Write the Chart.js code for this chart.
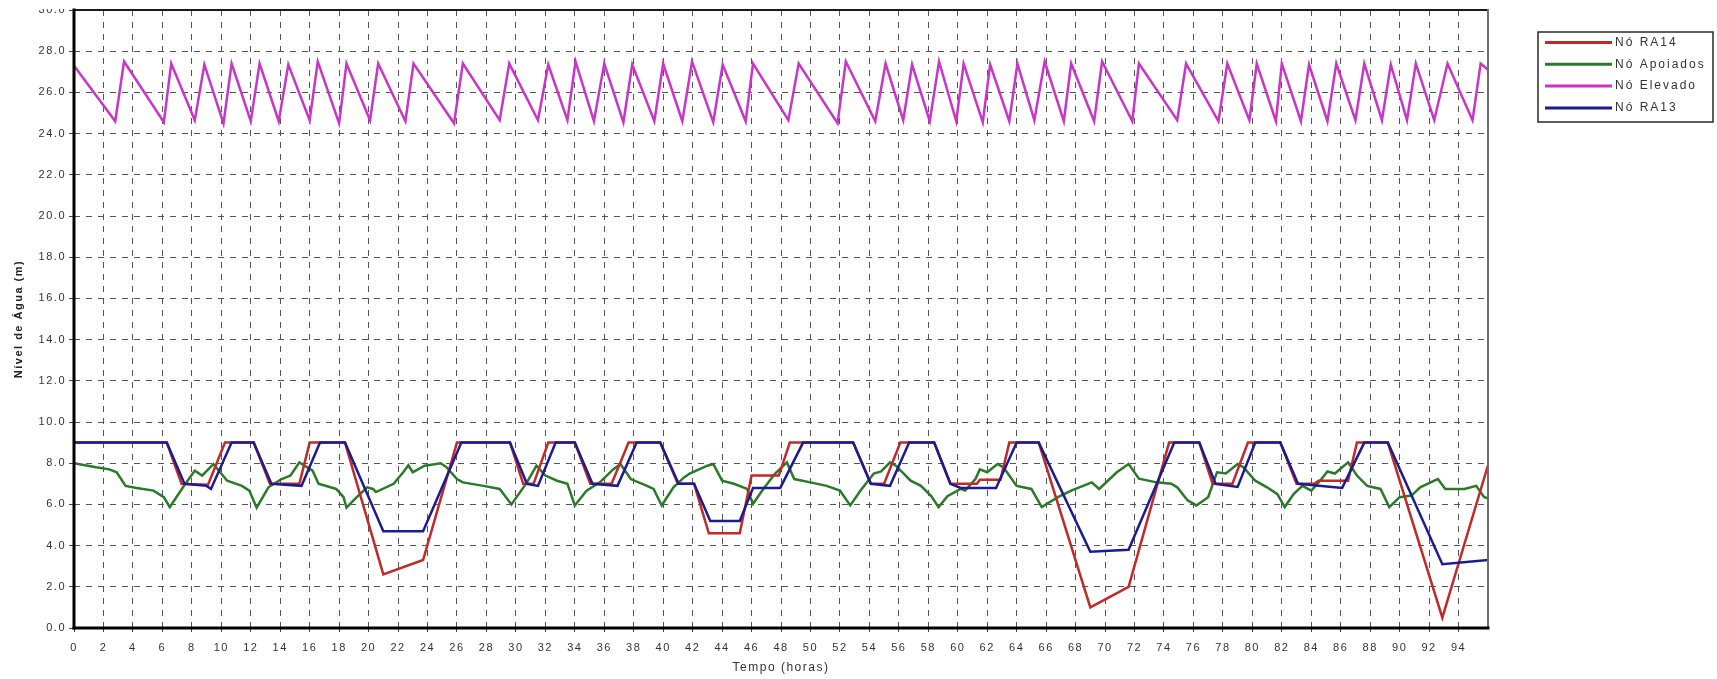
<!DOCTYPE html>
<html>
<head>
<meta charset="utf-8">
<title>Nível de Água</title>
<script src="https://cdn.jsdelivr.net/npm/chart.js@4.4.1/dist/chart.umd.min.js"></script>
<style>
  html, body { margin: 0; padding: 0; background: #fff; }
  #wrap { position: relative; width: 1717px; height: 679px; }
</style>
</head>
<body>
<div id="wrap"><canvas id="levelChart" width="1717" height="679"></canvas></div>
<script>
// breakpoints: time (hours) and water level (m) per node
const seriesLabels = ['Nó RA14', 'Nó Apoiados', 'Nó Elevado', 'Nó RA13'];

const ra14Hours = [0, 6.3, 7.3, 9.1, 10.25, 12.2, 13.3, 15.3, 16.0, 18.4, 21.0, 23.7, 26.0, 29.6, 30.5, 31.2,
  32.2, 34.0, 35.05, 36.5, 37.65, 39.8, 41.0, 42.1, 43.1, 45.2, 46.0, 47.85, 48.6, 52.9, 54.1, 55.0, 56.1,
  58.4, 59.5, 61.3, 61.5, 62.9, 63.5, 65.5, 69.0, 71.6, 74.35, 76.4, 77.3, 78.65, 79.7, 81.9, 83.0, 84.2,
  84.5, 86.5, 87.1, 89.2, 92.9, 96.0];
const ra14Level = [9.0, 9.0, 7.0, 6.95, 9.0, 9.0, 7.0, 7.0, 9.0, 9.0, 2.6, 3.3, 9.0, 9.0, 7.0, 7.0,
  9.0, 9.0, 7.0, 7.0, 9.0, 9.0, 7.0, 7.0, 4.6, 4.6, 7.4, 7.4, 9.0, 9.0, 7.0, 7.0, 9.0,
  9.0, 7.0, 7.0, 7.2, 7.2, 9.0, 9.0, 1.0, 2.0, 9.0, 9.0, 7.0, 7.0, 9.0, 9.0, 7.0, 7.0,
  7.15, 7.15, 9.0, 9.0, 0.5, 7.9];

const apoiadosHours = [0, 1.5, 2.4, 2.9, 3.5, 4.25, 5.4, 6.1, 6.5, 7.4, 8.2, 8.7, 9.46, 10.4, 11.4, 11.9,
  12.4, 13.2, 14.1, 14.7, 15.3, 16.2, 16.6, 17.8, 18.3, 18.5, 19.2, 19.9, 20.3, 20.5, 21.7, 22.35, 22.7,
  23.0, 23.8, 24.9, 25.3, 26.0, 26.4, 27.8, 28.9, 29.7, 30.75, 31.4, 32.0, 32.8, 33.5, 34.0, 34.8, 35.7,
  36.6, 37.1, 37.8, 38.9, 39.35, 39.9, 40.7, 41.4, 41.8, 43.0, 43.4, 44.0, 44.8, 45.7, 46.1, 46.8, 47.6,
  48.4, 48.9, 50.0, 51.1, 52.0, 52.7, 53.4, 54.3, 54.8, 55.4, 55.8, 56.8, 57.5, 58.2, 58.7, 59.3, 60.2,
  60.5, 61.2, 61.5, 62.0, 62.7, 63.1, 64.0, 65.0, 65.7, 66.8, 67.7, 69.1, 69.6, 70.8, 71.6, 72.3, 73.5,
  74.5, 74.9, 75.6, 76.2, 77.0, 77.6, 78.2, 79.0, 79.4, 80.2, 81.0, 81.7, 82.2, 82.8, 83.4, 84.0, 84.6,
  85.1, 85.6, 86.5, 87.1, 87.8, 88.7, 89.3, 90.0, 90.8, 91.4, 92.35, 92.6, 93.1, 94.4, 95.2, 95.74, 96.0];
const apoiadosLevel = [8.0, 7.8, 7.7, 7.56, 6.9, 6.8, 6.67, 6.35, 5.87, 6.83, 7.64, 7.4, 7.96, 7.15, 6.9, 6.67,
  5.84, 6.83, 7.23, 7.4, 8.04, 7.64, 7.0, 6.75, 6.35, 5.84, 6.35, 6.83, 6.75, 6.6, 7.0, 7.56, 7.9,
  7.56, 7.88, 8.0, 7.8, 7.23, 7.07, 6.9, 6.75, 6.0, 7.07, 7.88, 7.4, 7.15, 7.0, 5.95, 6.67, 7.07,
  7.7, 7.96, 7.23, 6.9, 6.75, 5.95, 6.83, 7.3, 7.5, 7.88, 7.96, 7.15, 7.0, 6.75, 6.03, 6.75, 7.5,
  8.04, 7.23, 7.07, 6.9, 6.67, 5.95, 6.67, 7.5, 7.6, 8.04, 7.88, 7.15, 6.9, 6.4, 5.87, 6.4, 6.75,
  6.67, 7.23, 7.7, 7.56, 7.96, 7.8, 6.9, 6.75, 5.87, 6.35, 6.67, 7.07, 6.75, 7.56, 7.96, 7.25, 7.07,
  7.0, 6.83, 6.2, 5.95, 6.35, 7.56, 7.5, 7.96, 7.8, 7.15, 6.83, 6.5, 5.87, 6.5, 6.9, 6.67, 7.15,
  7.6, 7.5, 8.04, 7.4, 6.9, 6.75, 5.87, 6.35, 6.43, 6.83, 7.15, 7.23, 6.75, 6.75, 6.9, 6.35, 6.3];

const elevadoHours = [0, 2.8, 3.4, 6.1, 6.6, 8.2, 8.85, 10.15, 10.7, 12.0, 12.6, 13.9, 14.55, 16.0, 16.55,
  18.0, 18.5, 20.1, 20.65, 22.5, 23.05, 25.8, 26.4, 28.9, 29.55, 31.5, 32.2, 33.5, 34.05, 35.3, 36.0,
  37.3, 37.9, 39.4, 40.0, 41.3, 41.96, 43.4, 44.04, 45.6, 46.1, 48.5, 49.2, 51.84, 52.4, 54.4, 55.1,
  56.3, 56.9, 58.1, 58.73, 59.9, 60.4, 61.7, 62.2, 63.5, 64.05, 65.2, 65.9, 67.2, 67.7, 69.26, 69.8,
  71.85, 72.3, 74.9, 75.5, 77.7, 78.3, 79.8, 80.3, 81.6, 82.0, 83.3, 83.85, 85.1, 85.7, 87.0, 87.6,
  88.8, 89.4, 90.5, 91.1, 92.35, 93.25, 94.95, 95.5, 96.0];
const elevadoLevel = [27.3, 24.6, 27.5, 24.55, 27.4, 24.65, 27.35, 24.5, 27.4, 24.6, 27.4, 24.6, 27.35, 24.65, 27.5,
  24.5, 27.4, 24.65, 27.4, 24.6, 27.4, 24.5, 27.4, 24.65, 27.4, 24.65, 27.35, 24.65, 27.5, 24.6, 27.4,
  24.55, 27.35, 24.6, 27.4, 24.6, 27.5, 24.55, 27.35, 24.6, 27.4, 24.65, 27.4, 24.5, 27.5, 24.6, 27.4,
  24.65, 27.35, 24.6, 27.5, 24.6, 27.4, 24.55, 27.35, 24.6, 27.4, 24.65, 27.5, 24.6, 27.4, 24.6, 27.5,
  24.6, 27.4, 24.65, 27.4, 24.6, 27.4, 24.65, 27.4, 24.6, 27.4, 24.6, 27.35, 24.6, 27.4, 24.65, 27.4,
  24.65, 27.35, 24.65, 27.4, 24.65, 27.4, 24.65, 27.4, 27.1];

const ra13Hours = [0, 6.3, 7.5, 9.0, 9.3, 10.7, 12.2, 13.4, 15.45, 16.7, 18.4, 21.0, 23.7, 26.3, 29.6, 30.75,
  31.5, 32.7, 34.0, 35.2, 36.9, 38.2, 39.8, 41.05, 42.1, 43.2, 45.2, 46.1, 47.95, 49.5, 52.9, 54.1, 55.4,
  56.7, 58.4, 59.5, 60.2, 62.6, 64.0, 65.5, 69.0, 71.6, 74.7, 76.4, 77.5, 79.0, 80.2, 81.9, 83.1, 86.1,
  87.6, 89.2, 92.9, 96.0];
const ra13Level = [9.0, 9.0, 7.0, 6.9, 6.75, 9.0, 9.0, 7.0, 6.9, 9.0, 9.0, 4.7, 4.7, 9.0, 9.0, 7.0,
  6.9, 9.0, 9.0, 7.0, 6.9, 9.0, 9.0, 7.0, 7.0, 5.2, 5.2, 6.8, 6.8, 9.0, 9.0, 7.0, 6.9,
  9.0, 9.0, 7.0, 6.8, 6.8, 9.0, 9.0, 3.7, 3.8, 9.0, 9.0, 7.0, 6.85, 9.0, 9.0, 7.0, 6.8,
  9.0, 9.0, 3.1, 3.3];

const seriesColors = ['#bf2a2a', '#2a7a2a', '#c836c8', '#1c1c8e'];

const xTickStep = 2;
const yTickStep = 2;

function toPoints(hours, level) {
  return hours.map((h, i) => ({ x: h, y: level[i] }));
}

const textFont = '"Liberation Sans", Arial, sans-serif';

// black/grey frame round the plot area, like the original program draws it
const plotFrame = {
  id: 'plotFrame',
  afterDraw(chart) {
    const { left, right, top, bottom } = chart.chartArea;
    const ctx = chart.ctx;
    const seg = (x1, y1, x2, y2) => { ctx.beginPath(); ctx.moveTo(x1, y1); ctx.lineTo(x2, y2); ctx.stroke(); };
    ctx.save();
    // the source image is cropped just through the top tick label
    ctx.fillStyle = '#fff';
    ctx.fillRect(0, 0, left - 6, top - 1);
    ctx.lineCap = 'square';
    ctx.strokeStyle = '#1a1a1a'; ctx.lineWidth = 2;
    seg(left, top, right, top);
    ctx.strokeStyle = '#6e6e6e';
    seg(right, top, right, bottom);
    ctx.strokeStyle = '#000'; ctx.lineWidth = 3;
    seg(left, bottom, right, bottom);
    seg(left, top, left, bottom);
    ctx.restore();
  }
};

// legend in a framed box to the right of the plot
const boxedLegend = {
  id: 'boxedLegend',
  afterDraw(chart) {
    const ctx = chart.ctx;
    const bx = 1538, by = 32, bw = 175, bh = 90;
    ctx.save();
    ctx.fillStyle = '#fff';
    ctx.fillRect(bx, by, bw, bh);
    ctx.strokeStyle = '#2a2a2a'; ctx.lineWidth = 1.5;
    ctx.strokeRect(bx, by, bw, bh);
    ctx.font = '12px ' + textFont;
    ctx.textBaseline = 'middle';
    ctx.letterSpacing = '2px';
    chart.data.datasets.forEach((ds, i) => {
      const y = by + 10.5 + i * 21.8;
      ctx.strokeStyle = ds.borderColor; ctx.lineWidth = 3;
      ctx.beginPath(); ctx.moveTo(bx + 7, y); ctx.lineTo(bx + 74, y); ctx.stroke();
      ctx.fillStyle = '#333';
      ctx.fillText(ds.label, bx + 77, y);
    });
    ctx.restore();
  }
};

// the original labels are drawn with wide letter spacing
const spacedText = {
  id: 'spacedText',
  beforeDraw(chart) { chart.ctx.letterSpacing = '1.5px'; },
  afterDraw(chart) { chart.ctx.letterSpacing = '0px'; }
};

const ctx = document.getElementById('levelChart').getContext('2d');

new Chart(ctx, {
  type: 'line',
  data: {
    datasets: [
      { label: seriesLabels[0], data: toPoints(ra14Hours, ra14Level), borderColor: seriesColors[0], order: 1 },
      { label: seriesLabels[1], data: toPoints(apoiadosHours, apoiadosLevel), borderColor: seriesColors[1], order: 2 },
      { label: seriesLabels[2], data: toPoints(elevadoHours, elevadoLevel), borderColor: seriesColors[2], order: 3 },
      { label: seriesLabels[3], data: toPoints(ra13Hours, ra13Level), borderColor: seriesColors[3], order: 0 }
    ]
  },
  options: {
    responsive: false,
    animation: false,
    parsing: false,
    layout: { padding: { top: 10, right: 229, bottom: 0, left: 0 } },
    elements: {
      line: { borderWidth: 2.5, tension: 0, fill: false, borderJoinStyle: 'miter' },
      point: { radius: 0, hoverRadius: 0 }
    },
    plugins: {
      legend: { display: false },
      tooltip: { enabled: false }
    },
    scales: {
      x: {
        type: 'linear',
        min: 0,
        max: 96,
        afterBuildTicks: scale => { scale.ticks = scale.ticks.filter(t => t.value < 96); },
        afterFit: scale => { scale.height = 51; },
        ticks: {
          stepSize: xTickStep,
          autoSkip: false,
          maxRotation: 0,
          padding: 9,
          color: '#333',
          font: { family: textFont, size: 11 }
        },
        grid: { color: '#555', lineWidth: 1, tickLength: 4, tickColor: '#444' },
        border: { display: false, dash: [6, 6] },
        title: {
          display: true,
          text: 'Tempo (horas)',
          color: '#333',
          font: { family: textFont, size: 12 },
          padding: { top: 0, bottom: 4 }
        }
      },
      y: {
        min: 0,
        max: 30,
        afterFit: scale => { scale.width = 74; },
        ticks: {
          stepSize: yTickStep,
          padding: 3,
          color: '#333',
          font: { family: textFont, size: 11 },
          callback: v => v.toFixed(1)
        },
        grid: { color: '#555', lineWidth: 1, tickLength: 5, tickColor: '#444' },
        border: { display: false, dash: [6, 6] },
        title: {
          display: true,
          text: 'Nível de Água (m)',
          color: '#222',
          font: { family: textFont, size: 11, weight: 'bold' },
          padding: { top: 12, bottom: 0 }
        }
      }
    }
  },
  plugins: [spacedText, plotFrame, boxedLegend]
});
</script>
</body>
</html>
